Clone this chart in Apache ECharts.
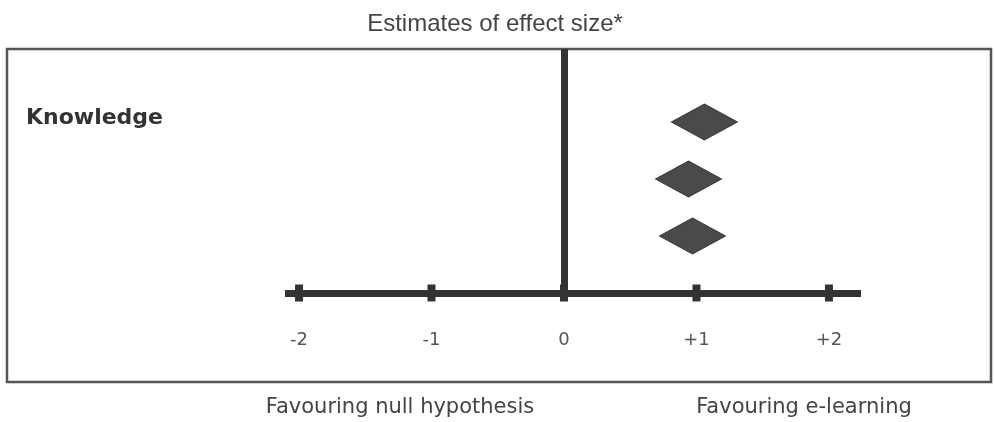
<!DOCTYPE html>
<html>
<head>
<meta charset="utf-8">
<script src="https://cdn.jsdelivr.net/npm/echarts@6/dist/echarts.min.js"></script>
<style>
  html, body { margin: 0; padding: 0; background: #ffffff; }
  #chart { width: 994px; height: 422px; }
</style>
</head>
<body>
<div id="chart"></div>
<script>
// ---- data ----
const chartTitle = 'Estimates of effect size*';
const groupLabel = 'Knowledge';
const tickValues = [-2, -1, 0, 1, 2];
const tickLabels = ['-2', '-1', '0', '+1', '+2'];
const effectSizes = [1.06, 0.94, 0.97];   // estimated effect size per study
const effectRows = [3, 2, 1];             // row position (top to bottom)
const leftCaption = 'Favouring null hypothesis';
const rightCaption = 'Favouring e-learning';

const chart = echarts.init(document.getElementById('chart'), null, { renderer: 'canvas' });

const option = {
  backgroundColor: '#ffffff',
  animation: false,
  title: {
    text: chartTitle,
    left: 490,
    top: 7,
    textAlign: 'center',
    textStyle: { fontFamily: 'Liberation Sans', fontSize: 24, fontWeight: 'normal', color: '#444' }
  },
  grid: { left: 285, top: 49, width: 576, bottom: 129, containLabel: false },
  xAxis: {
    type: 'value',
    min: -2.106,
    max: 2.242,
    axisLine: { show: true, onZero: true, lineStyle: { color: '#333', width: 7, cap: 'butt' } },
    axisTick: { show: false },
    splitLine: { show: false },
    axisLabel: {
      customValues: tickValues,
      margin: 38,
      fontFamily: 'DejaVu Sans',
      fontSize: 18,
      color: '#555',
      formatter: function (v) {
        const i = tickValues.indexOf(v);
        return i >= 0 ? tickLabels[i] : '';
      }
    }
  },
  yAxis: {
    type: 'value',
    min: 0,
    max: 4.28,
    axisLine: { show: true, onZero: true, lineStyle: { color: '#333', width: 7, cap: 'butt' } },
    axisTick: { show: false },
    axisLabel: { show: false },
    splitLine: { show: false }
  },
  series: [
    {
      name: 'ticks',
      type: 'scatter',
      symbol: 'rect',
      symbolSize: [8, 17],
      itemStyle: { color: '#333', opacity: 1 },
      silent: true,
      z: 3,
      data: tickValues.map(v => [v, 0])
    },
    {
      name: 'effects',
      type: 'scatter',
      symbol: 'diamond',
      symbolSize: [66, 36],
      itemStyle: { color: '#4a4a4a', borderColor: '#333', borderWidth: 1, opacity: 1 },
      z: 4,
      data: effectSizes.map((v, i) => [v, effectRows[i]])
    }
  ],
  graphic: [
    {
      type: 'rect',
      shape: { x: 7, y: 49, width: 984, height: 333 },
      style: { fill: 'none', stroke: '#555', lineWidth: 2.5 },
      silent: true,
      z: -1
    },
    {
      type: 'text',
      x: 26,
      y: 118,
      style: {
        text: groupLabel,
        fontFamily: 'DejaVu Sans',
        fontWeight: 'bold',
        fontSize: 22,
        fill: '#333',
        align: 'left',
        verticalAlign: 'middle'
      }
    },
    {
      type: 'text',
      x: 400,
      y: 408,
      style: {
        text: leftCaption,
        fontFamily: 'DejaVu Sans',
        fontSize: 21,
        fill: '#444',
        align: 'center',
        verticalAlign: 'middle'
      }
    },
    {
      type: 'text',
      x: 804,
      y: 408,
      style: {
        text: rightCaption,
        fontFamily: 'DejaVu Sans',
        fontSize: 21,
        fill: '#444',
        align: 'center',
        verticalAlign: 'middle'
      }
    }
  ]
};

chart.setOption(option);
</script>
</body>
</html>
